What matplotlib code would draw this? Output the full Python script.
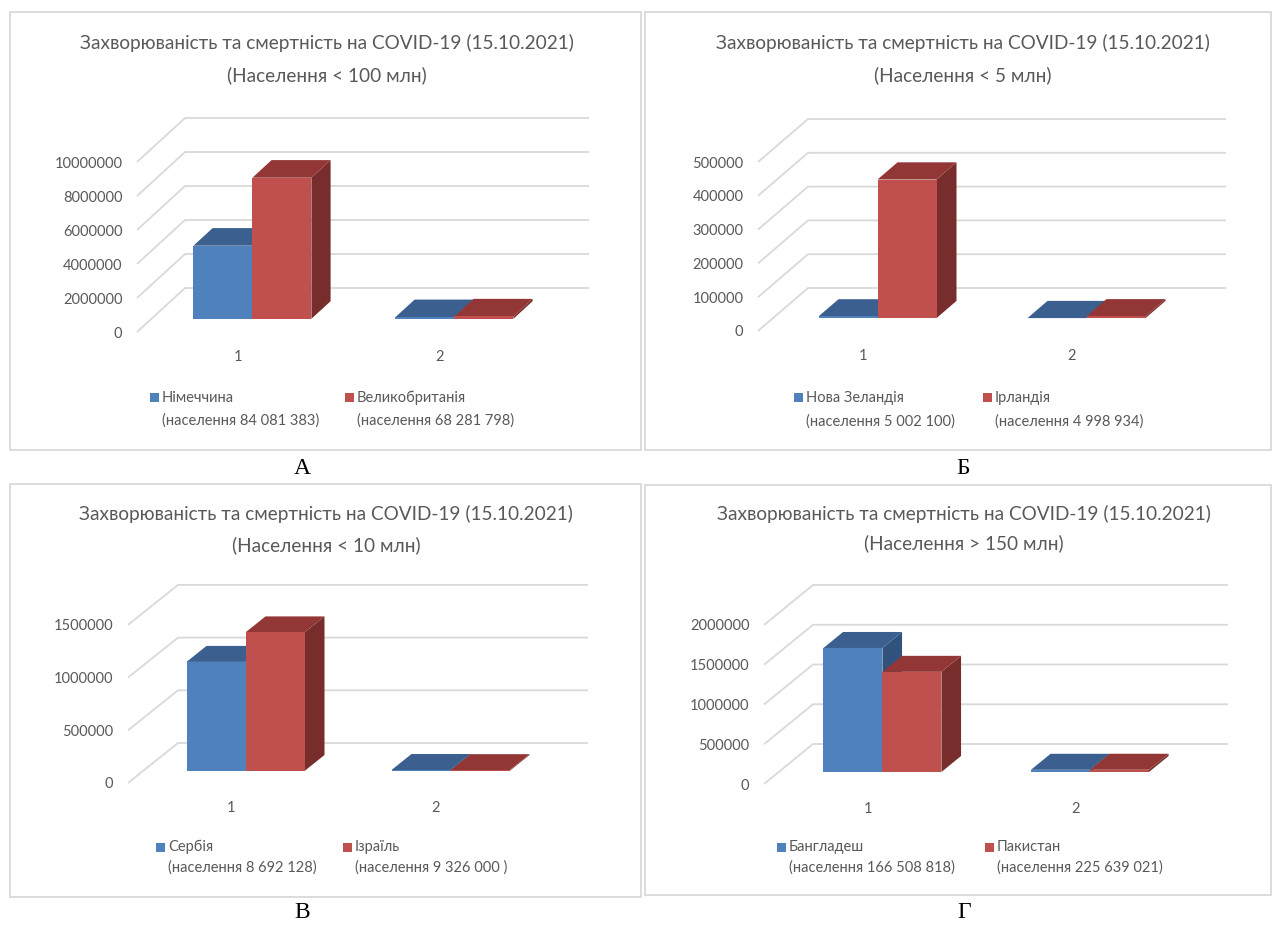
import matplotlib
matplotlib.use("Agg")
import matplotlib.pyplot as plt
from matplotlib.patches import Rectangle

plt.rcParams['font.family'] = ['Lato', 'DejaVu Sans']

W_PX, H_PX = 1272, 926

# ---- data ----
title = "Захворюваність та смертність на COVID-19 (15.10.2021)"
subtitles = ["(Населення < 100 млн)", "(Населення < 5 млн)",
             "(Населення < 10 млн)", "(Населення > 150 млн)"]
letters = ["А", "Б", "В", "Г"]
categories = ["1", "2"]   # 1 - захворюваність, 2 - смертність

names_a = ["Німеччина", "Великобританія"]
pops_a = ["(населення 84 081 383)", "(населення 68 281 798)"]
germany = [4300000, 95000]
uk = [8300000, 138000]
yticks_a = [0, 2000000, 4000000, 6000000, 8000000, 10000000]

names_b = ["Нова Зеландія", "Ірландія"]
pops_b = ["(населення 5 002 100)", "(населення 4 998 934)"]
new_zealand = [5000, 28]
ireland = [410000, 5300]
yticks_b = [0, 100000, 200000, 300000, 400000, 500000]

names_c = ["Сербія", "Ізраїль"]
pops_c = ["(населення 8 692 128)", "(населення 9 326 000 )"]
serbia = [1035000, 9400]
israel = [1315000, 7950]
yticks_c = [0, 500000, 1000000, 1500000]

names_d = ["Бангладеш", "Пакистан"]
pops_d = ["(населення 166 508 818)", "(населення 225 639 021)"]
bangladesh = [1560000, 27700]
pakistan = [1260000, 28200]
yticks_d = [0, 500000, 1000000, 1500000, 2000000]

# ---- styles ----
BLUE = ("#4F81BD", "#3B6090", "#30527C")   # front, top, side
RED = ("#C0504D", "#923735", "#772D2B")
GRID = "#D9D9D9"
TXT = "#595959"
FS_TITLE = 13.7
FS_TICK = 10.5
FS_LEG = 10.5


def fx(x):
    return x / W_PX


def fy(y):
    return 1 - y / H_PX


def draw_panel(fig, geo, box, title_pos, legend_pos, letter_pos,
               subtitle, letter, yticks, vals1, vals2, names, pops):
    x0, y0, w, dx, dy, ppu = geo
    ymax = yticks[-1]
    top = y0 - ymax * ppu - dy
    right = x0 + w + dx
    ax = fig.add_axes([fx(x0), fy(y0), fx(right - x0), (y0 - top) / H_PX])
    ux = w / 2.0
    ddx = dx / ux
    ddy = dy / ppu
    ax.set_xlim(0, 2 + ddx)
    ax.set_ylim(0, ymax + ddy)
    ax.set_facecolor("none")
    for s in ax.spines.values():
        s.set_visible(False)

    for v in yticks:
        ax.plot([0, ddx, 2 + ddx], [v, v + ddy, v + ddy], color=GRID,
                lw=1.3, zorder=1, clip_on=False, solid_capstyle="butt")

    z0, z1 = 0.3, 0.7
    bw = 59 / ux
    ex, ey = (z1 - z0) * ddx, (z1 - z0) * ddy
    for i in range(len(categories)):
        cx = i + 0.5 + z0 * ddx
        b = z0 * ddy
        for j, (vals, col) in enumerate([(vals1, BLUE), (vals2, RED)]):
            left = cx - bw + j * bw
            h = vals[i]
            zb = 3 + j
            ax.fill([left + bw, left + bw + ex, left + bw + ex, left + bw],
                    [b, b + ey, b + h + ey, b + h], color=col[2], lw=0, zorder=zb)
            ax.fill([left, left + bw, left + bw + ex, left + ex],
                    [b + h, b + h, b + h + ey, b + h + ey], color=col[1], lw=0, zorder=zb)
            ax.bar(left, h, width=bw, bottom=b, align="edge", color=col[0],
                   lw=0, zorder=zb)

    ax.set_xticks([0.5, 1.5], categories)
    ax.set_yticks(yticks, [str(v) for v in yticks])
    ax.tick_params(axis="x", length=0, pad=13, labelsize=FS_TICK, colors=TXT)
    ax.tick_params(axis="y", length=0, pad=10.5, labelsize=FS_TICK, colors=TXT)

    # panel frame
    bx0, by0, bx1, by1 = box
    fig.add_artist(Rectangle((fx(bx0), fy(by1)), fx(bx1 - bx0), (by1 - by0) / H_PX,
                             transform=fig.transFigure, fill=False,
                             edgecolor=GRID, lw=1.3))

    tx, ty1, ty2 = title_pos
    fig.text(fx(tx), fy(ty1), title, ha="center", va="center", fontsize=FS_TITLE, color=TXT)
    fig.text(fx(tx), fy(ty2), subtitle, ha="center", va="center", fontsize=FS_TITLE, color=TXT)

    lx1, lx2, ly1, ly2 = legend_pos
    for lx, col, name, pop in [(lx1, BLUE, names[0], pops[0]), (lx2, RED, names[1], pops[1])]:
        fig.add_artist(Rectangle((fx(lx - 12), fy(ly1 + 4.5)), fx(9), 9 / H_PX,
                                 transform=fig.transFigure, color=col[0], lw=0))
        fig.text(fx(lx), fy(ly1), name, ha="left", va="center", fontsize=FS_LEG, color=TXT)
        fig.text(fx(lx), fy(ly2), pop, ha="left", va="center", fontsize=FS_LEG, color=TXT)

    lx, ly = letter_pos
    fig.text(fx(lx), fy(ly), letter, ha="center", va="center", fontsize=17,
             color="black", family=["Liberation Serif", "DejaVu Serif"])


fig = plt.figure(figsize=(W_PX / 100, H_PX / 100), dpi=100)
fig.patch.set_facecolor("white")

draw_panel(fig, (137, 332, 404, 48, 44, 17e-6), (10, 12, 641, 450),
           (327, 43, 75), (162, 357, 398, 421), (302, 468),
           subtitles[0], letters[0], yticks_a, germany, uk, names_a, pops_a)
draw_panel(fig, (758, 331, 418, 50, 43, 338e-6), (645, 12, 1271, 450),
           (963, 43, 75), (806, 995, 398, 422), (963, 468),
           subtitles[1], letters[1], yticks_b, new_zealand, ireland, names_b, pops_b)
draw_panel(fig, (128, 783, 410, 50, 40, 105.4e-6), (10, 484, 641, 897),
           (326, 514, 545), (168, 355, 847, 868), (302, 912),
           subtitles[2], letters[2], yticks_c, serbia, israel, names_c, pops_c)
draw_panel(fig, (764, 784, 415, 49, 40, 79.5e-6), (645, 485, 1271, 895),
           (964, 514, 543), (789, 997, 847, 868), (964, 913),
           subtitles[3], letters[3], yticks_d, bangladesh, pakistan, names_d, pops_d)

fig.savefig("out.png", dpi=100, facecolor="white")
